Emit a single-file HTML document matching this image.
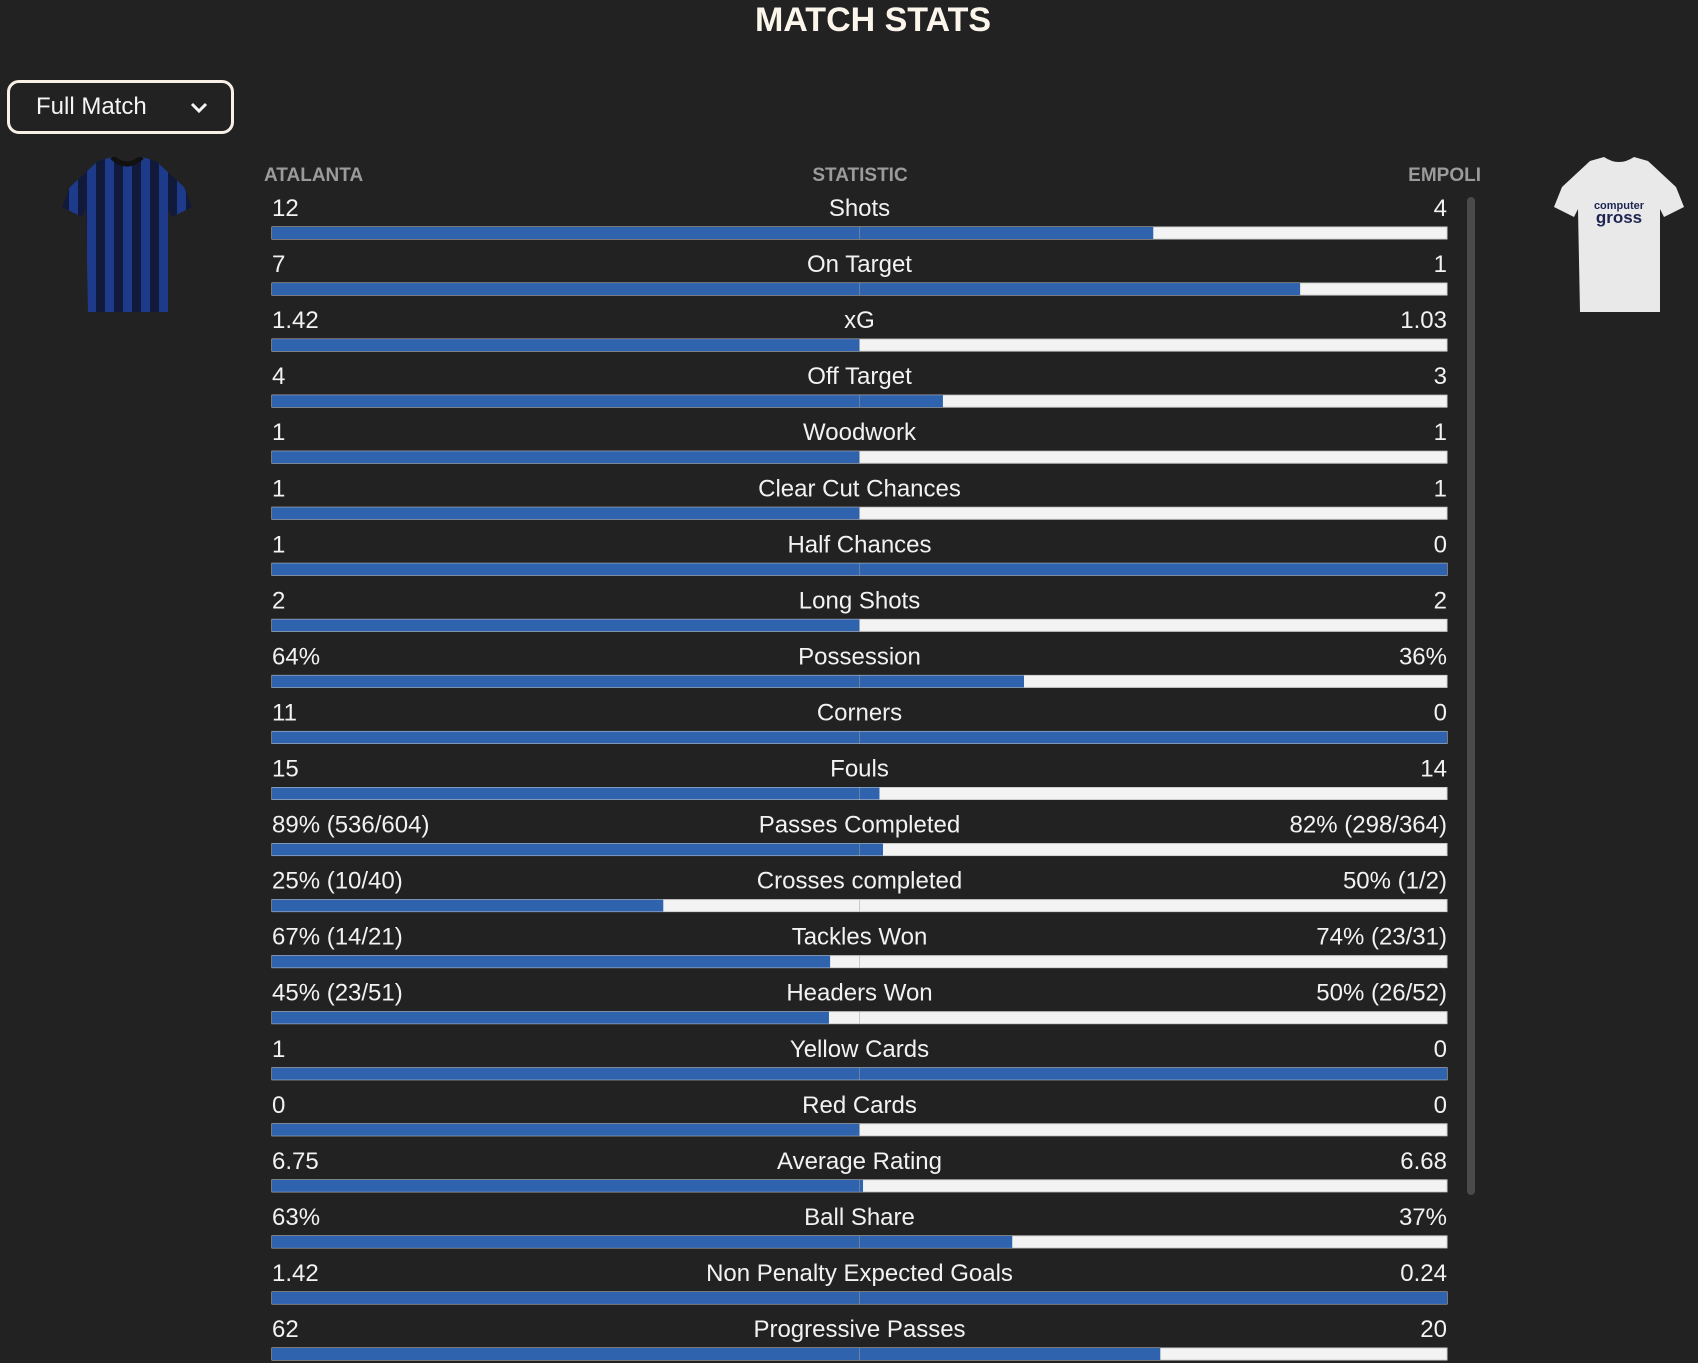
<!DOCTYPE html>
<html><head><meta charset="utf-8">
<style>
html,body{margin:0;padding:0;background:#222222;width:1698px;height:1363px;overflow:hidden;font-family:"Liberation Sans",sans-serif;}
#title{position:absolute;left:0;width:1746px;top:0;text-align:center;font-family:"Liberation Sans Narrow","Liberation Sans",sans-serif;font-weight:bold;font-size:34px;color:#fbf5ec;line-height:40px;}
#dd{position:absolute;left:7px;top:80px;width:221px;height:48px;border:3px solid #f8f0e6;border-radius:12px;box-sizing:content-box;color:#f5f5f5;font-size:24px;}
#dd span{position:absolute;left:26px;top:10px;}
#dd svg{position:absolute;left:180px;top:18px;}
</style></head><body>
<div id="title">MATCH STATS</div>
<div id="dd"><span>Full Match</span><svg width="18" height="14" viewBox="0 0 18 14"><path d="M2 3 L9 10 L16 3" stroke="#f5f5f5" stroke-width="3" fill="none"/></svg></div>
<svg id="shirtL" style="position:absolute;left:60px;top:157px" width="134" height="158" viewBox="0 0 134 158">
<defs><pattern id="st" width="18" height="158" patternUnits="userSpaceOnUse"><rect width="18" height="158" fill="#1e3a8a"/><rect width="9" height="158" fill="#111a3a"/></pattern></defs>
<path d="M38 4 L52 0 Q67 10 82 0 L96 4 L124 30 L132 50 L112 60 L108 52 L108 155 L28 155 L26 52 L22 60 L2 50 L10 30 Z" fill="url(#st)"/>
<path d="M52 0 Q67 14 82 0" stroke="#111" stroke-width="5" fill="none"/>
</svg>
<svg id="shirtR" style="position:absolute;left:1552px;top:157px" width="134" height="158" viewBox="0 0 134 158">
<path d="M38 4 L52 0 Q67 10 82 0 L96 4 L124 30 L132 50 L112 60 L108 52 L108 155 L28 155 L26 52 L22 60 L2 50 L10 30 Z" fill="#e9e9ea"/>
<text x="67" y="52" text-anchor="middle" font-size="11" font-weight="bold" fill="#1d2550" font-family="Liberation Sans, sans-serif">computer</text>
<text x="67" y="66" text-anchor="middle" font-size="17" font-weight="bold" fill="#1d2550" font-family="Liberation Sans, sans-serif">gross</text>
</svg>
<svg id="chart" style="position:absolute;left:0;top:0" width="1698" height="1363"></svg>
<script>
const statNames=["Shots","On Target","xG","Off Target","Woodwork","Clear Cut Chances","Half Chances","Long Shots","Possession","Corners","Fouls","Passes Completed","Crosses completed","Tackles Won","Headers Won","Yellow Cards","Red Cards","Average Rating","Ball Share","Non Penalty Expected Goals","Progressive Passes"];
const leftValues=["12","7","1.42","4","1","1","1","2","64%","11","15","89% (536/604)","25% (10/40)","67% (14/21)","45% (23/51)","1","0","6.75","63%","1.42","62"];
const rightValues=["4","1","1.03","3","1","1","0","2","36%","0","14","82% (298/364)","50% (1/2)","74% (23/31)","50% (26/52)","0","0","6.68","37%","0.24","20"];
const blueShare=[0.75,0.875,0.5,0.571,0.5,0.5,1,0.5,0.64,1,0.517,0.52,0.333,0.475,0.474,1,0.5,0.503,0.63,1,0.756];
const NS="http://www.w3.org/2000/svg";
const svg=document.getElementById('chart');
const X0=272,X1=1447,Y0=227,PITCH=56.05,BH=12;
const xScale=f=>X0+f*(X1-X0);
const yRow=i=>Y0+i*PITCH;
function mk(tag,attrs,txt){const e=document.createElementNS(NS,tag);for(const k in attrs)e.setAttribute(k,attrs[k]);if(txt!==undefined)e.textContent=txt;svg.appendChild(e);return e;}
let h;
h=mk('text',{x:264,y:181,'font-size':19,'font-weight':'bold',fill:'#9b9b9b'},'ATALANTA');


h=mk('text',{x:860,y:181,'font-size':19,'font-weight':'bold',fill:'#9b9b9b','text-anchor':'middle'},'STATISTIC');


h=mk('text',{x:1481,y:181,'font-size':19,'font-weight':'bold',fill:'#9b9b9b','text-anchor':'end'},'EMPOLI');


const sb=mk('rect',{x:1467,y:197,width:8,height:998,rx:4,fill:'#4a4a4a'});


statNames.forEach((n,i)=>{
  const y=yRow(i);
  const ty=y-11;
  let t=mk('text',{x:X0,y:ty,'font-size':24,fill:'#f2f2f2'},leftValues[i]);
  
  
  t=mk('text',{x:(X0+X1)/2,y:ty,'font-size':24,fill:'#f2f2f2','text-anchor':'middle'},n);
  
  
  t=mk('text',{x:X1,y:ty,'font-size':24,fill:'#f2f2f2','text-anchor':'end'},rightValues[i]);
  
  
  const bg=mk('rect',{x:X0,y:y,width:X1-X0,height:BH,fill:'#f3f3f3',stroke:'#d0d0d0','stroke-width':1});
  
  
  const b=mk('rect',{x:X0,y:y,width:xScale(blueShare[i])-X0,height:BH,fill:'#2f63ad'});
  
  
  const c=mk('line',{x1:(X0+X1)/2,x2:(X0+X1)/2,y1:y,y2:y+BH,stroke:'rgba(160,160,160,0.5)','stroke-width':1});
  
  
});
</script>
</body></html>
